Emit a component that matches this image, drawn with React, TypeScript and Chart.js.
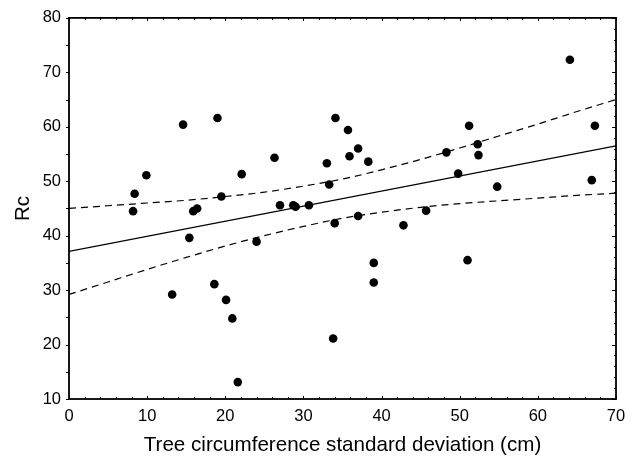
import React, { useEffect, useRef } from "react";
import { Chart, registerables } from "chart.js";

Chart.register(...registerables);

const pointX = [8.2, 8.4, 9.9, 13.2, 14.6, 15.4, 15.9, 16.4, 18.6, 19.0, 19.5, 20.1, 20.9, 21.6, 22.1, 24.0, 26.3, 27.0, 28.7, 29.0, 30.7, 33.0, 33.3, 33.8, 34.0, 34.1, 35.7, 35.9, 37.0, 37.0, 38.3, 39.0, 39.0, 42.8, 45.7, 48.3, 49.8, 51.0, 51.2, 52.3, 52.4, 54.8, 64.1, 66.9, 67.3];
const pointY = [44.5, 47.7, 51.1, 29.2, 60.4, 39.6, 44.5, 45.0, 31.1, 61.6, 47.2, 28.2, 24.8, 13.1, 51.3, 38.9, 54.3, 45.6, 45.6, 45.3, 45.6, 53.3, 49.4, 21.1, 42.3, 61.6, 59.4, 54.6, 56.0, 43.6, 53.6, 35.0, 31.4, 41.9, 44.6, 55.3, 51.4, 35.5, 60.2, 56.8, 54.8, 49.0, 72.3, 50.2, 60.2];

const fitX = [0, 70];
const fitY = [37.1, 56.5];

const bandX = [0, 5, 10, 15, 20, 25, 30, 35, 40, 45, 50, 55, 60, 65, 70];
const upperY = [45.0, 45.5, 46.0, 46.5, 47.2, 48.0, 49.1, 50.4, 52.1, 54.0, 56.1, 58.3, 60.5, 62.8, 65.0];
const lowerY = [29.2, 31.5, 33.8, 36.0, 38.1, 40.0, 41.7, 43.2, 44.3, 45.2, 45.9, 46.4, 46.9, 47.4, 47.8];

const xTitle = "Tree circumference standard deviation (cm)";
const yTitle = "Rc";

const FONT = "'Liberation Sans', Arial, sans-serif";

const framePlugin = {
  id: "frame",
  afterDraw(chart: any) {
    const { ctx, chartArea, scales } = chart;
    const { left, right, top, bottom } = chartArea;
    const xs = scales.x;
    const ys = scales.y;
    ctx.save();
    ctx.strokeStyle = "#000";
    ctx.lineWidth = 1;
    ctx.beginPath();
    for (let v = 0; v <= 70; v += 2) {
      const px = Math.round(xs.getPixelForValue(v)) + 0.5;
      const len = v % 10 === 0 ? 3 : 2;
      ctx.moveTo(px, bottom);
      ctx.lineTo(px, bottom - len);
      ctx.moveTo(px, top);
      ctx.lineTo(px, top + len);
    }
    for (let v = 10; v <= 80; v += 2) {
      const py = Math.round(ys.getPixelForValue(v)) + 0.5;
      const len = v % 10 === 0 ? 4 : 2;
      ctx.moveTo(right, py);
      ctx.lineTo(right - len, py);
    }
    for (let v = 10; v <= 80; v += 5) {
      const py = Math.round(ys.getPixelForValue(v)) + 0.5;
      ctx.moveTo(left, py);
      ctx.lineTo(left - 3, py);
    }
    ctx.stroke();
    ctx.lineWidth = 1.8;
    ctx.strokeRect(left, top, right - left, bottom - top);
    ctx.restore();
  },
};

export default function App() {
  const ref = useRef<HTMLCanvasElement | null>(null);
  useEffect(() => {
    if (!ref.current) return;
    const chart = new Chart(ref.current, {
      type: "scatter",
      data: {
        datasets: [
          {
            label: "upper",
            data: bandX.map((x, i) => ({ x, y: upperY[i] })),
            showLine: true,
            borderColor: "#000",
            borderWidth: 1.2,
            borderDash: [7, 5],
            pointRadius: 0,
            cubicInterpolationMode: "monotone",
          },
          {
            label: "lower",
            data: bandX.map((x, i) => ({ x, y: lowerY[i] })),
            showLine: true,
            borderColor: "#000",
            borderWidth: 1.2,
            borderDash: [7, 5],
            pointRadius: 0,
            cubicInterpolationMode: "monotone",
          },
          {
            label: "fit",
            data: fitX.map((x, i) => ({ x, y: fitY[i] })),
            showLine: true,
            borderColor: "#000",
            borderWidth: 1.2,
            pointRadius: 0,
          },
          {
            label: "Rc",
            data: pointX.map((x, i) => ({ x, y: pointY[i] })),
            backgroundColor: "#000",
            borderColor: "#000",
            borderWidth: 0,
            pointRadius: 4.3,
          },
        ],
      },
      options: {
        animation: false,
        responsive: true,
        maintainAspectRatio: false,
        layout: { padding: { left: 0, top: 16, right: 26, bottom: 0 } },
        plugins: {
          legend: { display: false },
          tooltip: { enabled: false },
        },
        scales: {
          x: {
            type: "linear",
            min: 0,
            max: 70,
            grid: { display: false, drawTicks: false },
            border: { display: false },
            ticks: {
              stepSize: 10,
              color: "#000",
              padding: 8,
              font: { family: FONT, size: 16.5 },
            },
            title: {
              display: true,
              text: xTitle,
              color: "#000",
              font: { family: FONT, size: 20.6 },
              padding: { top: 0, bottom: 6 },
            },
            afterFit(scale: any) {
              scale.height = 65;
            },
          },
          y: {
            type: "linear",
            min: 10,
            max: 80,
            grid: { display: false, drawTicks: false },
            border: { display: false },
            ticks: {
              stepSize: 10,
              color: "#000",
              padding: 8,
              font: { family: FONT, size: 16.5 },
            },
            title: {
              display: true,
              text: yTitle,
              color: "#000",
              font: { family: FONT, size: 20.6 },
              padding: { top: 11, bottom: 0 },
            },
            afterFit(scale: any) {
              scale.width = 69;
            },
          },
        },
      },
      plugins: [framePlugin],
    });
    return () => chart.destroy();
  }, []);
  return (
    <div style={{ position: "absolute", left: 0, top: 0, width: 642, height: 464, background: "#fff" }}>
      <canvas ref={ref} />
    </div>
  );
}
